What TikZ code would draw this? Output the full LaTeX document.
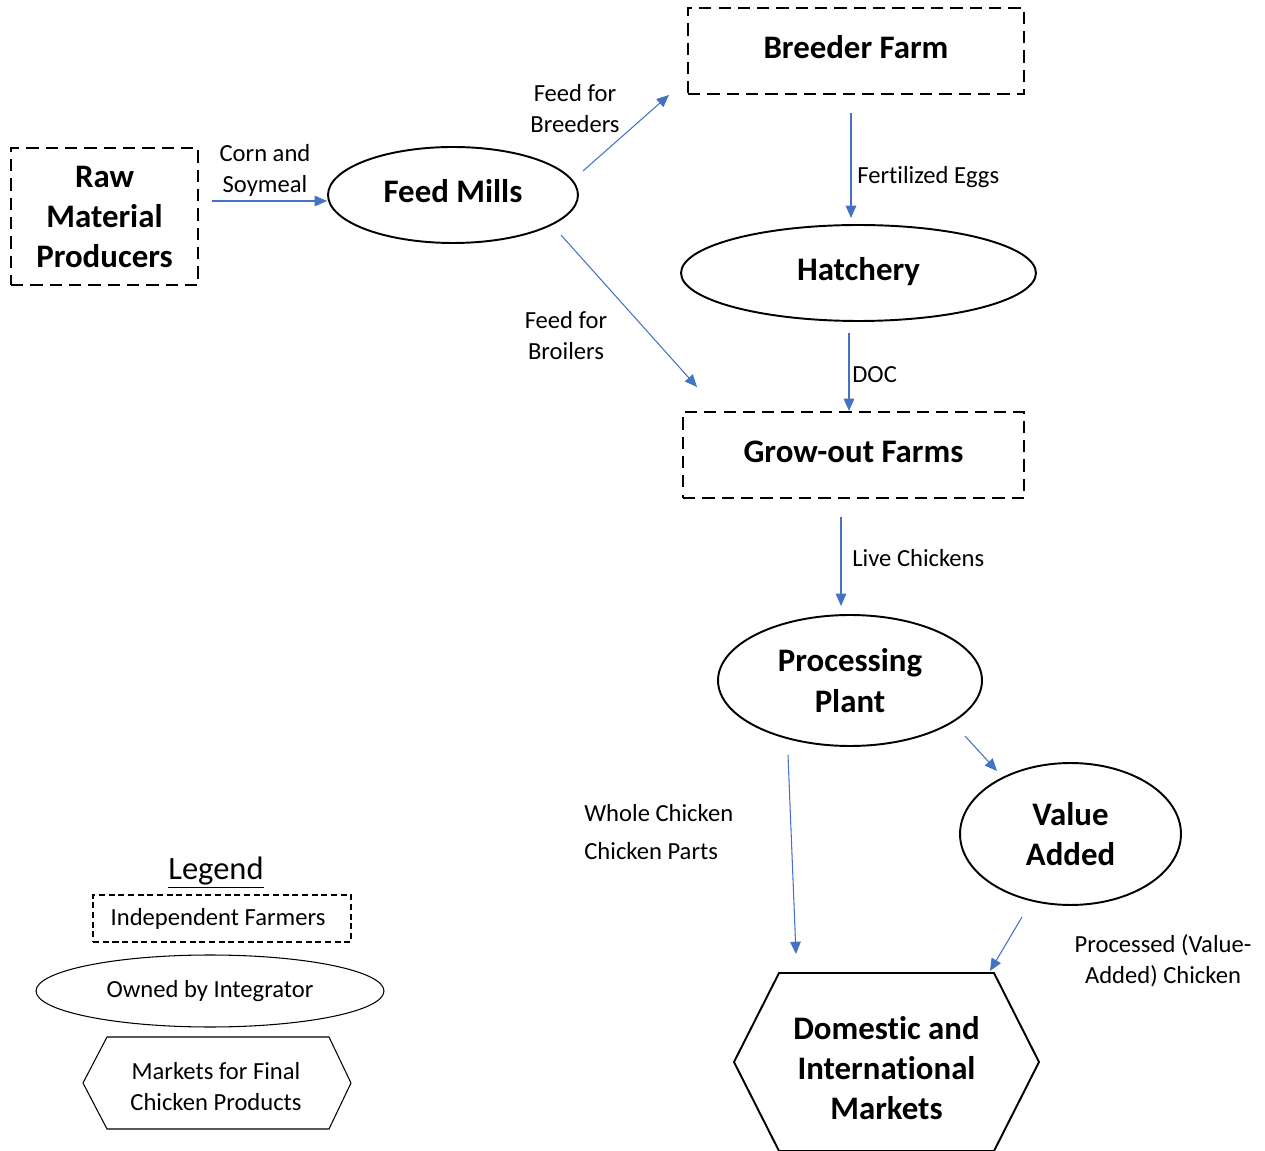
\documentclass[tikz,border=0pt]{standalone}
\usepackage{fontspec}
\setmainfont{Carlito}[Ligatures=NoCommon]
\usetikzlibrary{shapes.geometric,arrows.meta}

\begin{document}
\begin{tikzpicture}[x=0.02cm,y=-0.02cm,
  indip/.style={draw, dash pattern=on 7pt off 4pt, line width=1.1pt, inner sep=0pt, align=center},
  integr/.style={draw, ellipse, line width=1.1pt, inner sep=0pt, align=center},
  bigTxt/.style={font=\fontsize{18.7}{22.8}\selectfont\bfseries},
  oneLine/.style={text height=12pt, text depth=3.4pt},
  lbl/.style={font=\fontsize{14}{17.6}\selectfont, inner sep=0pt, align=center},
  flow/.style={draw=arrowBlue, line width=0.6pt, -{Triangle[length=7pt,width=6pt]}}]

% Colori
\definecolor{arrowBlue}{HTML}{4472C4}

\useasboundingbox (0,0) rectangle (1265,1151);

% Fornitori indipendenti
\node[indip, bigTxt, text depth=-5pt, minimum width=3.74cm, minimum height=2.74cm] (raw) at (104.5,216.5) {Raw\\Material\\Producers};
\node[indip, bigTxt, oneLine, minimum width=6.72cm, minimum height=1.72cm] (breeder) at (856,51) {Breeder Farm};
\node[indip, bigTxt, oneLine, minimum width=6.82cm, minimum height=1.72cm] (growout) at (853.5,455) {Grow-out Farms};

% Integratore
\node[integr, bigTxt, oneLine, minimum width=5.0cm, minimum height=1.92cm] (mills) at (453,195) {Feed Mills};
\node[integr, bigTxt, oneLine, minimum width=7.1cm, minimum height=1.92cm] (hatch) at (858.5,273) {Hatchery};
\node[integr, bigTxt, text depth=-11pt, minimum width=5.28cm, minimum height=2.62cm] (plant) at (850,680.5) {Processing\\Plant};
\node[integr, bigTxt, minimum width=4.42cm, minimum height=2.84cm] (value) at (1070.5,834) {Value\\Added};

% Mercati
\draw[line width=1.1pt, line join=miter] (779,973) -- (994,973) -- (1039,1062) -- (994,1151)
  -- (779,1151) -- (734,1062) -- cycle;
\node[bigTxt, align=center] (markets) at (886.5,1068) {Domestic and\\International\\Markets};

% Flussi
\coordinate (cornS) at (212,201);   \coordinate (cornE) at (327,201);
\coordinate (breedS) at (583,171);  \coordinate (breedE) at (669,95);
\coordinate (broilS) at (561,235);  \coordinate (broilE) at (697,387);
\coordinate (eggsS) at (851,113);   \coordinate (eggsE) at (851,218);
\coordinate (docS) at (849,333);    \coordinate (docE) at (849,411);
\coordinate (liveS) at (841,517);   \coordinate (liveE) at (841,606);
\coordinate (vaS) at (965,736);     \coordinate (vaE) at (997,771);
\coordinate (wholeS) at (788,755);  \coordinate (wholeE) at (796,954);
\coordinate (procS) at (1022,917);  \coordinate (procE) at (990,971);

\draw[flow] (cornS) -- (cornE);
\draw[flow] (breedS) -- (breedE);
\draw[flow] (broilS) -- (broilE);
\draw[flow] (eggsS) -- (eggsE);
\draw[flow] (docS) -- (docE);
\draw[flow] (liveS) -- (liveE);
\draw[flow] (vaS) -- (vaE);
\draw[flow] (wholeS) -- (wholeE);
\draw[flow] (procS) -- (procE);

% Etichette
\node[lbl] (lCorn) at (265,170) {Corn and\\Soymeal};
\node[lbl] (lBreed) at (575,109) {Feed for\\Breeders};
\node[lbl] (lBroil) at (566,336) {Feed for\\Broilers};
\node[lbl, anchor=west] (lEggs) at (857,177) {Fertilized Eggs};
\node[lbl, anchor=west] (lDoc) at (852,375) {DOC};
\node[lbl, anchor=west] (lLive) at (852,558) {Live Chickens};
\node[lbl, anchor=west, align=left] (lWhole) at (584,832) {Whole Chicken\\[4.5pt]Chicken Parts};
\node[lbl] (lProc) at (1163,961) {Processed (Value-\\Added) Chicken};

% Legenda
\node[font=\fontsize{18.5}{22}\selectfont] (legTitle) at (216,873) {\underline{Legend}};
\node[lbl, draw, dash pattern=on 3.5pt off 2pt, line width=0.6pt, minimum width=5.16cm, minimum height=0.94cm] (legIndip) at (222,918.5) {Independent Farmers\hspace*{4.5pt}};
\node[lbl, draw, ellipse, line width=0.6pt, minimum width=6.96cm, minimum height=1.44cm] (legInteg) at (210,991) {Owned by Integrator};
\draw[line width=0.6pt] (107,1037) -- (329,1037) -- (351,1083) -- (329,1129) -- (107,1129) -- (83,1083) -- cycle;
\node[lbl] (legMkt) at (216,1087) {Markets for Final\\Chicken Products};

\end{tikzpicture}
\end{document}
